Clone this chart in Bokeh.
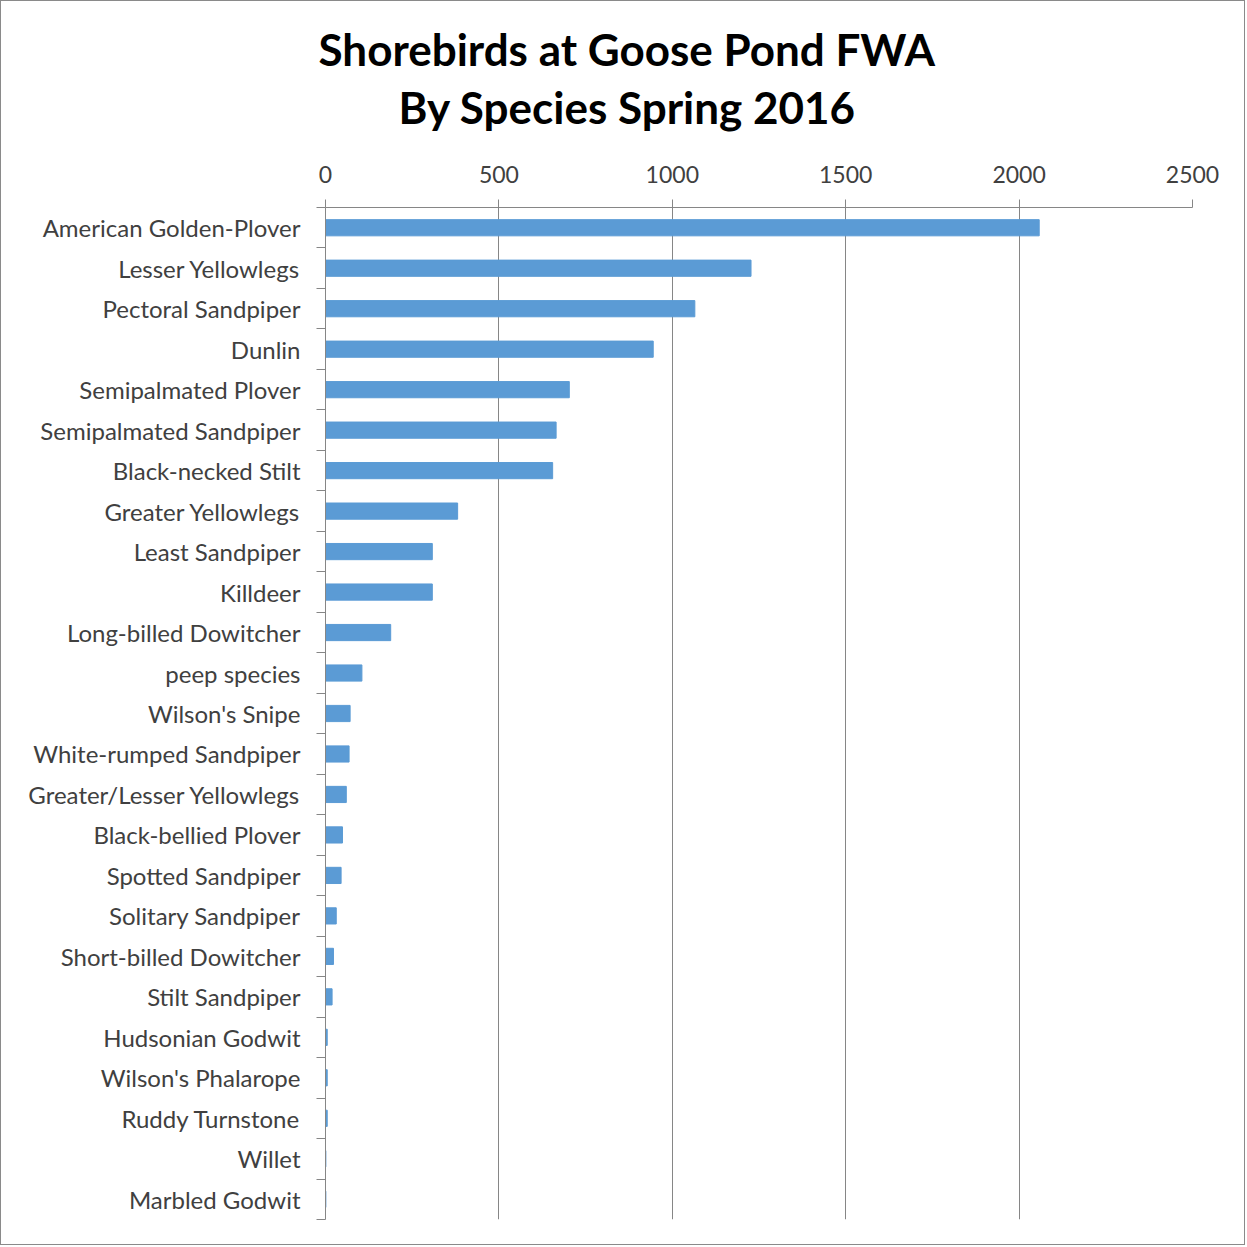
from bokeh.plotting import figure
from bokeh.models import Range1d, FixedTicker, Title
from bokeh.embed import file_html
from bokeh.resources import INLINE

species = [
    "American Golden-Plover", "Lesser Yellowlegs", "Pectoral Sandpiper", "Dunlin",
    "Semipalmated Plover", "Semipalmated Sandpiper", "Black-necked Stilt",
    "Greater Yellowlegs", "Least Sandpiper", "Killdeer", "Long-billed Dowitcher",
    "peep species", "Wilson's Snipe", "White-rumped Sandpiper",
    "Greater/Lesser Yellowlegs", "Black-bellied Plover", "Spotted Sandpiper",
    "Solitary Sandpiper", "Short-billed Dowitcher", "Stilt Sandpiper",
    "Hudsonian Godwit", "Wilson's Phalarope", "Ruddy Turnstone", "Willet",
    "Marbled Godwit",
]
counts = [2058, 1227, 1065, 945, 703, 665, 655, 381, 308, 308, 188,
          105, 71, 68, 60, 49, 45, 31, 23, 19, 5, 5, 5, 1, 1]
x_ticks = [0, 500, 1000, 1500, 2000, 2500]
title_lines = ["Shorebirds at Goose Pond FWA", "By Species Spring 2016"]

FONT = "Lato"
GRAY = "#868686"
TEXT = "#404040"

n = len(species)
ypos = list(range(n))

W = H = 1245
p = figure(width=W, height=H, output_backend="svg", toolbar_location=None,
           x_axis_location="above", title=None,
           x_range=Range1d(0, 2500), y_range=Range1d(n - 0.5, -0.5),
           min_border_left=324, min_border_right=54, min_border_top=206,
           min_border_bottom=27)

p.hbar(y=ypos, left=0, right=counts, height=0.4,
       fill_color="#5B9BD5", line_color="#5B9BD5")

p.outline_line_color = None
p.ygrid.visible = False
p.xgrid.ticker = FixedTicker(ticks=x_ticks)
p.xgrid.grid_line_color = GRAY
p.xgrid.grid_line_width = 1

xa = p.xaxis[0]
xa.ticker = FixedTicker(ticks=x_ticks)
xa.axis_line_color = GRAY
xa.major_tick_line_color = GRAY
xa.major_tick_out = 8
xa.major_tick_in = 0
xa.minor_tick_line_color = None
xa.major_label_text_font = FONT
xa.major_label_text_font_size = "23px"
xa.major_label_text_color = TEXT
xa.major_label_standoff = 17

ya = p.yaxis[0]
ya.ticker = FixedTicker(ticks=ypos, minor_ticks=[i - 0.5 for i in range(n + 1)])
ya.major_label_overrides = {i: s for i, s in enumerate(species)}
ya.axis_line_color = GRAY
ya.major_tick_line_color = None
ya.major_tick_out = 0
ya.major_tick_in = 0
ya.minor_tick_line_color = GRAY
ya.minor_tick_out = 9
ya.minor_tick_in = 0
ya.major_label_text_font = FONT
ya.major_label_text_font_size = "24px"
ya.major_label_text_color = TEXT
ya.major_label_standoff = 16

t_style = dict(align="left", text_font=FONT, text_font_size="44px",
               text_font_style="bold", text_color="#000000")
p.add_layout(Title(text=title_lines[1], offset=73, standoff=59, **t_style), "above")
try:
    t1 = Title(text=title_lines[0], offset=-7, standoff=-50, **t_style)
except Exception:
    t1 = Title(text=title_lines[0], offset=-7, standoff=0, **t_style)
p.add_layout(t1, "above")

p.styles = {"border": "1px solid #8a8a8a"}

open("out.html", "w").write(file_html(p, INLINE))
